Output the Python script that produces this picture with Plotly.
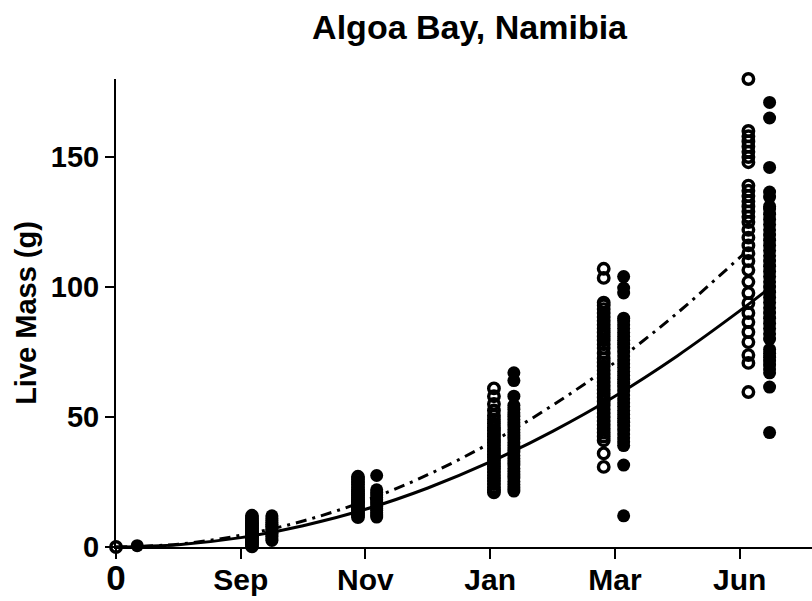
import plotly.graph_objects as go

# ---------------- data ----------------
tick_pos = [0, 1, 2, 3, 4, 5]
tick_labels = ["0", "Sep", "Nov", "Jan", "Mar", "Jun"]

# x positions of each sampling group (open = one group, filled = other)
open_x = [0.0, 1.09, 1.94, 3.03, 3.91, 5.07]
filled_x = [0.17, 1.25, 2.09, 3.19, 4.07, 5.24]

open_start = [0]
open_sep = [0.3, 1, 1.6, 2.2, 2.8, 3.3, 3.9, 4.4, 5, 5.5, 6.1, 6.6, 7.2, 7.8,
            8.3, 9, 9.6, 10.3, 11, 12]
open_nov = [11.5, 12.3, 13, 13.8, 14.5, 15.3, 16, 16.8, 17.5, 18.3, 19, 19.8,
            20.5, 21.3, 22, 23, 24, 25, 26, 27]
open_jan = [21, 22, 23, 24.2, 25.4, 26.5, 27.6, 28.8, 30, 31, 32.2, 33.3, 34.5,
            35.6, 36.8, 38, 39, 40.2, 41.3, 42.5, 43.6, 44.8, 46, 47.5, 49,
            50.5, 52.5, 55, 58, 61]
open_mar = [30.8, 36, 41, 42.5, 44, 45.5, 47, 48.5, 50, 51.5, 53, 54.5, 56,
            57.5, 59, 60.5, 62, 63.5, 65, 66.5, 68, 69.5, 71, 72.5, 74.5, 76.5,
            78, 79.5, 81, 82.5, 84, 85.5, 87, 88.5, 90, 91.5, 93, 94, 103.5, 107]
open_jun = [59.6, 70.8, 73.8, 78.8, 82.7, 86.5, 90, 93.8, 97.7, 102, 106.5,
            110, 113, 116, 119, 122, 125, 127, 129, 131, 133, 135, 137, 139,
            148, 150, 152, 154, 156, 158, 160, 180]

filled_start = [0.5]
filled_sep = [2.5, 3.2, 4, 4.6, 5.3, 6, 6.6, 7.3, 8, 8.7, 9.4, 10.2, 11, 12]
filled_nov = [11.5, 12.3, 13.2, 14, 14.8, 15.6, 16.5, 17.3, 18.2, 19, 20, 21,
              22, 27.5]
filled_jan = [21.5, 22.7, 24, 25.2, 26.5, 27.7, 29, 30.2, 31.5, 32.7, 34, 35.2,
              36.5, 37.7, 39, 40.2, 41.5, 42.7, 44, 45.2, 46.5, 47.8, 49, 50.3,
              51.6, 53, 54.5, 58, 64, 67]
filled_mar = [12, 31.5, 39, 40.5, 42, 43.5, 45, 46.5, 48, 49.5, 51, 52.5, 54,
              55.5, 57, 58.5, 60, 61.5, 63, 64.5, 66, 67.5, 69, 70.5, 72, 73.5,
              75, 76.5, 78, 79.5, 81, 82.5, 84, 85.5, 87, 88, 97.7, 99.6, 104]
filled_jun = [44, 61.5, 67, 68.5, 70, 71.5, 73, 74.5, 76, 80, 82, 84, 86, 88,
              90, 92, 94, 96, 98, 100, 102, 104, 106, 108, 110, 112, 114, 116,
              118, 120, 122, 124, 126, 128, 130, 131, 134.6, 136.5, 146, 165, 171]

# fitted growth curves
solid_x = [0, 0.5, 1, 1.5, 2, 2.5, 3, 3.5, 4, 4.5, 5, 5.25]
solid_y = [0, 0.9, 3.6, 8.2, 14.5, 22.7, 32.7, 44.5, 58, 73.5, 90.8, 100]
dashdot_x = [0, 0.5, 1, 1.5, 2, 2.5, 3, 3.5, 4, 4.5, 5, 5.04]
dashdot_y = [0, 1.1, 4.5, 10, 17.8, 27.8, 40, 54.5, 71, 90, 111.3, 113]

open_groups = [open_start, open_sep, open_nov, open_jan, open_mar, open_jun]
filled_groups = [filled_start, filled_sep, filled_nov, filled_jan, filled_mar, filled_jun]

# ---------------- figure ----------------
FONT = "Liberation Sans, Arial, Helvetica, sans-serif"

ox, oy = [], []
for gx, vals in zip(open_x, open_groups):
    ox += [gx] * len(vals)
    oy += vals
fx, fy = [], []
for gx, vals in zip(filled_x, filled_groups):
    fx += [gx] * len(vals)
    fy += vals

fig = go.Figure()
fig.add_trace(go.Scatter(x=solid_x, y=solid_y, mode="lines",
                         line=dict(color="black", width=3, shape="spline"),
                         showlegend=False, hoverinfo="skip"))
fig.add_trace(go.Scatter(x=dashdot_x, y=dashdot_y, mode="lines",
                         line=dict(color="black", width=3, shape="spline",
                                   dash="11px,6px,3px,6px"),
                         showlegend=False, hoverinfo="skip"))
fig.add_trace(go.Scatter(x=ox, y=oy, mode="markers", cliponaxis=False,
                         marker=dict(symbol="circle-open", size=10.5, color="black",
                                     line=dict(width=3.4, color="black")),
                         showlegend=False))
fig.add_trace(go.Scatter(x=fx, y=fy, mode="markers", cliponaxis=False,
                         marker=dict(symbol="circle", size=13, color="black",
                                     line=dict(width=0)),
                         showlegend=False))

ticktext = ["<span style='font-size:35px'>0</span>"] + tick_labels[1:]

fig.update_layout(
    width=812, height=601,
    margin=dict(l=116, r=0, t=79, b=54),
    paper_bgcolor="white", plot_bgcolor="white",
    font=dict(family=FONT, color="black"),
    title=dict(text="Algoa Bay, Namibia", x=0.508, xref="paper", y=0.955,
               yanchor="middle", xanchor="center",
               font=dict(size=34, family=FONT, weight="bold", color="black")),
    xaxis=dict(range=[0, 5.58], tickvals=tick_pos, ticktext=ticktext,
               ticks="outside", ticklen=10, tickwidth=2, tickcolor="black",
               ticklabelstandoff=-5, layer="below traces",
               showline=True, linewidth=2, linecolor="black",
               showgrid=False, zeroline=False,
               tickfont=dict(size=30, family=FONT, weight="bold", color="black")),
    yaxis=dict(range=[0, 180], tickvals=[0, 50, 100, 150],
               ticks="outside", ticklen=9, tickwidth=2, tickcolor="black",
               layer="below traces",
               showline=True, linewidth=2, linecolor="black",
               showgrid=False, zeroline=False,
               tickfont=dict(size=29, family=FONT, weight="bold", color="black"),
               title=dict(text="Live Mass (g)", standoff=6,
                          font=dict(size=29, family=FONT, weight="bold", color="black"))),
)

fig.write_html("out.html")
